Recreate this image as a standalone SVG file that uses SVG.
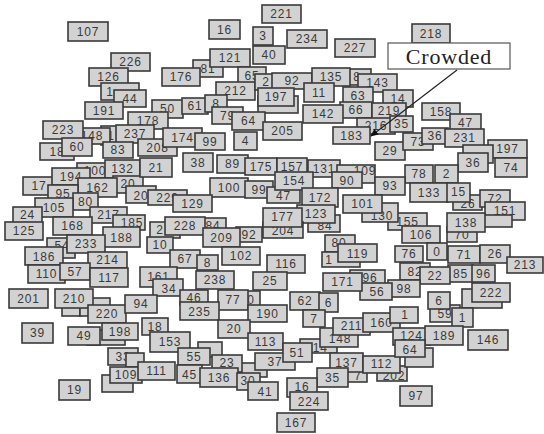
<svg xmlns="http://www.w3.org/2000/svg" width="544" height="434" viewBox="0 0 544 434">
<style>
.n rect{fill:#d2d2d2;stroke:#3a3a3a;stroke-width:1.6}
.n text{font-family:"Liberation Sans",Arial,sans-serif;font-size:12px;fill:#3a3a3a;text-anchor:middle;letter-spacing:0.8px}
</style>
<defs>
<marker id="ah" markerWidth="8" markerHeight="8" refX="7" refY="4" orient="auto" markerUnits="userSpaceOnUse"><path d="M0,0.5 L8,4 L0,7.5 Z" fill="#111"/></marker>
</defs>
<rect width="544" height="434" fill="#fff"/>
<g id="n107" class="n"><rect x="68" y="22" width="40" height="19"/><text x="88" y="35.5">107</text></g>
<g id="n16" class="n"><rect x="209" y="20" width="31" height="19"/><text x="224.5" y="33.5">16</text></g>
<g id="n221" class="n"><rect x="262" y="5" width="39" height="18"/><text x="281.5" y="18">221</text></g>
<g id="n3" class="n"><rect x="253" y="27" width="20" height="18"/><text x="263" y="40">3</text></g>
<g id="n40" class="n"><rect x="253" y="46" width="32" height="18"/><text x="269" y="59">40</text></g>
<g id="n234" class="n"><rect x="287" y="30" width="40" height="18"/><text x="307" y="43">234</text></g>
<g id="n227" class="n"><rect x="335" y="39" width="40" height="18"/><text x="355" y="52">227</text></g>
<g id="n218" class="n"><rect x="412" y="24" width="38" height="19"/><text x="431" y="37.5">218</text></g>
<g id="n226" class="n"><rect x="111" y="53" width="39" height="18"/><text x="130.5" y="66">226</text></g>
<g id="n126" class="n"><rect x="89" y="68" width="39" height="18"/><text x="108.5" y="81">126</text></g>
<g id="n1a" class="n"><rect x="101" y="83" width="38" height="17"/><text x="110" y="95.5">1</text></g>
<g id="n44" class="n"><rect x="114" y="90" width="32" height="17"/><text x="130" y="102.5">44</text></g>
<g id="n191" class="n"><rect x="85" y="102" width="38" height="17"/><text x="104" y="114.5">191</text></g>
<g id="n81" class="n"><rect x="193" y="60" width="30" height="17"/><text x="208" y="72.5">81</text></g>
<g id="n176" class="n"><rect x="162" y="68" width="38" height="18"/><text x="181" y="81">176</text></g>
<g id="n121" class="n"><rect x="210" y="49" width="40" height="18"/><text x="230" y="62">121</text></g>
<g id="n65" class="n"><rect x="238" y="67" width="28" height="17"/><text x="252" y="79.5">65</text></g>
<g id="n212" class="n"><rect x="216" y="82" width="39" height="18"/><text x="235.5" y="95">212</text></g>
<g id="n2" class="n"><rect x="255" y="74" width="22" height="16"/><text x="266" y="86">2</text></g>
<g id="n92" class="n"><rect x="272" y="73" width="40" height="16"/><text x="292" y="85">92</text></g>
<g id="b0" class="n"><rect x="258" y="96" width="40" height="17"/></g>
<g id="n197" class="n"><rect x="258" y="88" width="36" height="18"/><text x="276" y="101">197</text></g>
<g id="n50" class="n"><rect x="152" y="100" width="31" height="18"/><text x="167.5" y="113">50</text></g>
<g id="n61" class="n"><rect x="182" y="98" width="26" height="16"/><text x="195" y="110">61</text></g>
<g id="n8" class="n"><rect x="205" y="95" width="22" height="17"/><text x="216" y="107.5">8</text></g>
<g id="n79" class="n"><rect x="212" y="107" width="31" height="17"/><text x="227.5" y="119.5">79</text></g>
<g id="n64" class="n"><rect x="232" y="112" width="33" height="18"/><text x="248.5" y="125">64</text></g>
<g id="n178" class="n"><rect x="128" y="112" width="40" height="17"/><text x="148" y="124.5">178</text></g>
<g id="n1" class="n"><rect x="101" y="126" width="20" height="19"/><text x="111" y="139.5">1</text></g>
<g id="n148" class="n"><rect x="74" y="128" width="36" height="16"/><text x="92" y="140">148</text></g>
<g id="n237" class="n"><rect x="116" y="125" width="38" height="18"/><text x="135" y="138">237</text></g>
<g id="n223" class="n"><rect x="43" y="121" width="40" height="18"/><text x="63" y="134">223</text></g>
<g id="n18" class="n"><rect x="40" y="143" width="34" height="17"/><text x="57" y="155.5">18</text></g>
<g id="n60" class="n"><rect x="62" y="138" width="30" height="18"/><text x="77" y="151">60</text></g>
<g id="n83" class="n"><rect x="103" y="142" width="30" height="16"/><text x="118" y="154">83</text></g>
<g id="n208" class="n"><rect x="138" y="139" width="39" height="17"/><text x="157.5" y="151.5">208</text></g>
<g id="n174" class="n"><rect x="163" y="128" width="39" height="19"/><text x="182.5" y="141.5">174</text></g>
<g id="n99" class="n"><rect x="195" y="133" width="30" height="17"/><text x="210" y="145.5">99</text></g>
<g id="n4" class="n"><rect x="234" y="132" width="23" height="18"/><text x="245.5" y="145">4</text></g>
<g id="n205" class="n"><rect x="263" y="122" width="39" height="18"/><text x="282.5" y="135">205</text></g>
<g id="n8b" class="n"><rect x="343" y="69" width="28" height="16"/><text x="357" y="81">8</text></g>
<g id="n135" class="n"><rect x="312" y="68" width="38" height="18"/><text x="331" y="81">135</text></g>
<g id="n143" class="n"><rect x="358" y="74" width="39" height="18"/><text x="377.5" y="87">143</text></g>
<g id="n11" class="n"><rect x="304" y="83" width="30" height="19"/><text x="319" y="96.5">11</text></g>
<g id="n63" class="n"><rect x="343" y="87" width="30" height="18"/><text x="358" y="100">63</text></g>
<g id="n14" class="n"><rect x="383" y="90" width="30" height="17"/><text x="398" y="102.5">14</text></g>
<g id="n66" class="n"><rect x="340" y="102" width="32" height="16"/><text x="356" y="114">66</text></g>
<g id="n219" class="n"><rect x="372" y="103" width="34" height="16"/><text x="389" y="115">219</text></g>
<g id="n142" class="n"><rect x="303" y="105" width="40" height="18"/><text x="323" y="118">142</text></g>
<g id="n216" class="n"><rect x="357" y="118" width="38" height="16"/><text x="376" y="130">216</text></g>
<g id="n35" class="n"><rect x="390" y="116" width="23" height="16"/><text x="401.5" y="128">35</text></g>
<g id="n183" class="n"><rect x="333" y="127" width="37" height="17"/><text x="351.5" y="139.5">183</text></g>
<g id="n29" class="n"><rect x="375" y="142" width="30" height="18"/><text x="390" y="155">29</text></g>
<g id="n158" class="n"><rect x="422" y="103" width="38" height="17"/><text x="441" y="115.5">158</text></g>
<g id="n47" class="n"><rect x="450" y="114" width="31" height="18"/><text x="465.5" y="127">47</text></g>
<g id="n73" class="n"><rect x="403" y="133" width="30" height="17"/><text x="418" y="145.5">73</text></g>
<g id="n36" class="n"><rect x="422" y="128" width="26" height="16"/><text x="435" y="140">36</text></g>
<g id="n231" class="n"><rect x="445" y="129" width="39" height="18"/><text x="464.5" y="142">231</text></g>
<g id="n197b" class="n"><rect x="488" y="140" width="39" height="18"/><text x="507.5" y="153">197</text></g>
<g id="n74" class="n"><rect x="495" y="158" width="32" height="19"/><text x="511" y="171.5">74</text></g>
<g id="b33" class="n"><rect x="463" y="145" width="30" height="18"/></g>
<g id="n36b" class="n"><rect x="458" y="153" width="30" height="19"/><text x="473" y="166.5">36</text></g>
<g id="n78" class="n"><rect x="405" y="165" width="28" height="18"/><text x="419" y="178">78</text></g>
<g id="n2b" class="n"><rect x="435" y="165" width="23" height="18"/><text x="446.5" y="178">2</text></g>
<g id="n133" class="n"><rect x="410" y="183" width="38" height="19"/><text x="429" y="196.5">133</text></g>
<g id="n26" class="n"><rect x="453" y="195" width="29" height="15"/><text x="468" y="208">26</text></g>
<g id="n15" class="n"><rect x="447" y="183" width="23" height="19"/><text x="458.5" y="196">15</text></g>
<g id="n72" class="n"><rect x="480" y="190" width="30" height="17"/><text x="495" y="202.5">72</text></g>
<g id="n151" class="n"><rect x="485" y="202" width="40" height="18"/><text x="505" y="215">151</text></g>
<g id="n70" class="n"><rect x="447" y="227" width="30" height="15"/><text x="462" y="239">70</text></g>
<g id="b1" class="n"><rect x="483" y="215" width="29" height="12"/></g>
<g id="n138" class="n"><rect x="447" y="213" width="38" height="19"/><text x="466" y="226.5">138</text></g>
<g id="n155" class="n"><rect x="388" y="213" width="39" height="17"/><text x="407.5" y="225.5">155</text></g>
<g id="n106" class="n"><rect x="402" y="226" width="38" height="17"/><text x="421" y="239">106</text></g>
<g id="n76" class="n"><rect x="395" y="246" width="28" height="16"/><text x="409" y="258">76</text></g>
<g id="n0" class="n"><rect x="427" y="243" width="20" height="17"/><text x="437" y="255.5">0</text></g>
<g id="n71" class="n"><rect x="448" y="246" width="32" height="17"/><text x="464" y="258.5">71</text></g>
<g id="n26b" class="n"><rect x="480" y="245" width="30" height="18"/><text x="495" y="258">26</text></g>
<g id="n213" class="n"><rect x="507" y="257" width="36" height="16"/><text x="525" y="269">213</text></g>
<g id="n82" class="n"><rect x="400" y="263" width="30" height="17"/><text x="415" y="275.5">82</text></g>
<g id="n85" class="n"><rect x="448" y="265" width="25" height="17"/><text x="460.5" y="277.5">85</text></g>
<g id="n96b" class="n"><rect x="472" y="265" width="23" height="17"/><text x="483.5" y="277.5">96</text></g>
<g id="n22" class="n"><rect x="420" y="267" width="30" height="17"/><text x="435" y="279.5">22</text></g>
<g id="n98" class="n"><rect x="388" y="280" width="32" height="17"/><text x="404" y="293">98</text></g>
<g id="n100b" class="n"><rect x="77" y="163" width="30" height="15"/><text x="95" y="174.5">100</text></g>
<g id="n132" class="n"><rect x="105" y="160" width="35" height="18"/><text x="122.5" y="173">132</text></g>
<g id="n17" class="n"><rect x="23" y="177" width="32" height="18"/><text x="39" y="190">17</text></g>
<g id="n194" class="n"><rect x="52" y="168" width="38" height="17"/><text x="71" y="181">194</text></g>
<g id="n20a" class="n"><rect x="113" y="176" width="30" height="17"/><text x="128" y="187.5">20</text></g>
<g id="n162" class="n"><rect x="78" y="178" width="39" height="19"/><text x="97.5" y="191.5">162</text></g>
<g id="n20b" class="n"><rect x="126" y="186" width="30" height="17"/><text x="141" y="199.5">20</text></g>
<g id="n21" class="n"><rect x="140" y="158" width="32" height="19"/><text x="156" y="171.5">21</text></g>
<g id="n95" class="n"><rect x="48" y="185" width="30" height="17"/><text x="63" y="197.5">95</text></g>
<g id="n80" class="n"><rect x="73" y="193" width="25" height="17"/><text x="85.5" y="205.5">80</text></g>
<g id="n105" class="n"><rect x="35" y="198" width="38" height="19"/><text x="54" y="211.5">105</text></g>
<g id="n24" class="n"><rect x="13" y="207" width="29" height="16"/><text x="27.5" y="219">24</text></g>
<g id="n125" class="n"><rect x="5" y="222" width="38" height="18"/><text x="24" y="235">125</text></g>
<g id="n217" class="n"><rect x="90" y="207" width="37" height="16"/><text x="108.5" y="219">217</text></g>
<g id="n185" class="n"><rect x="113" y="215" width="32" height="15"/><text x="132" y="227">185</text></g>
<g id="n168" class="n"><rect x="53" y="217" width="39" height="18"/><text x="72.5" y="230">168</text></g>
<g id="n188" class="n"><rect x="103" y="227" width="37" height="20"/><text x="121.5" y="241.5">188</text></g>
<g id="n54" class="n"><rect x="47" y="238" width="28" height="20"/><text x="62" y="250">54</text></g>
<g id="n233" class="n"><rect x="67" y="235" width="38" height="18"/><text x="86" y="248">233</text></g>
<g id="n186" class="n"><rect x="25" y="247" width="38" height="18"/><text x="44" y="260.5">186</text></g>
<g id="n214" class="n"><rect x="88" y="252" width="39" height="16"/><text x="107.5" y="264">214</text></g>
<g id="n110" class="n"><rect x="28" y="265" width="37" height="18"/><text x="46.5" y="278">110</text></g>
<g id="n57" class="n"><rect x="60" y="263" width="30" height="17"/><text x="75" y="275.5">57</text></g>
<g id="n117" class="n"><rect x="90" y="268" width="38" height="19"/><text x="109" y="281.5">117</text></g>
<g id="n38" class="n"><rect x="183" y="153" width="30" height="19"/><text x="198" y="166.5">38</text></g>
<g id="n89" class="n"><rect x="217" y="155" width="31" height="18"/><text x="232.5" y="168">89</text></g>
<g id="n175" class="n"><rect x="245" y="158" width="32" height="17"/><text x="261" y="170.5">175</text></g>
<g id="n157" class="n"><rect x="277" y="158" width="30" height="19"/><text x="292" y="171">157</text></g>
<g id="n131" class="n"><rect x="308" y="160" width="32" height="17"/><text x="324" y="172.5">131</text></g>
<g id="n109" class="n"><rect x="337" y="165" width="38" height="18"/><text x="365" y="175">109</text></g>
<g id="n100" class="n"><rect x="210" y="178" width="38" height="19"/><text x="229" y="191.5">100</text></g>
<g id="n99b" class="n"><rect x="245" y="181" width="28" height="17"/><text x="259" y="193.5">99</text></g>
<g id="n229" class="n"><rect x="148" y="190" width="39" height="15"/><text x="167.5" y="201.5">229</text></g>
<g id="n129" class="n"><rect x="173" y="195" width="39" height="17"/><text x="192.5" y="207.5">129</text></g>
<g id="n47b" class="n"><rect x="267" y="187" width="33" height="16"/><text x="283.5" y="199.5">47</text></g>
<g id="n154" class="n"><rect x="275" y="172" width="38" height="18"/><text x="294" y="185">154</text></g>
<g id="n90" class="n"><rect x="332" y="172" width="30" height="16"/><text x="347" y="184.5">90</text></g>
<g id="n172" class="n"><rect x="302" y="188" width="36" height="19"/><text x="320" y="201.5">172</text></g>
<g id="n93" class="n"><rect x="375" y="177" width="30" height="18"/><text x="390" y="190">93</text></g>
<g id="n130" class="n"><rect x="362" y="203" width="36" height="19"/><text x="382" y="219.5">130</text></g>
<g id="n101" class="n"><rect x="343" y="195" width="39" height="18"/><text x="362.5" y="207.5">101</text></g>
<g id="n84" class="n"><rect x="308" y="215" width="32" height="17"/><text x="325" y="229.5">84</text></g>
<g id="n123" class="n"><rect x="297" y="205" width="38" height="18"/><text x="316" y="217.5">123</text></g>
<g id="n2c" class="n"><rect x="150" y="222" width="30" height="16"/><text x="160" y="234">2</text></g>
<g id="n84b" class="n"><rect x="200" y="218" width="26" height="15"/><text x="213" y="229.5">84</text></g>
<g id="n228" class="n"><rect x="165" y="217" width="40" height="18"/><text x="185" y="230">228</text></g>
<g id="n10" class="n"><rect x="147" y="237" width="26" height="16"/><text x="160" y="249">10</text></g>
<g id="n204" class="n"><rect x="263" y="222" width="40" height="16"/><text x="283" y="234.5">204</text></g>
<g id="n177" class="n"><rect x="263" y="208" width="39" height="19"/><text x="282.5" y="221">177</text></g>
<g id="n92b" class="n"><rect x="236" y="227" width="26" height="15"/><text x="249" y="238.5">92</text></g>
<g id="n209" class="n"><rect x="203" y="228" width="37" height="19"/><text x="221.5" y="241.5">209</text></g>
<g id="n67" class="n"><rect x="170" y="250" width="30" height="18"/><text x="185" y="263">67</text></g>
<g id="n8c" class="n"><rect x="197" y="255" width="21" height="15"/><text x="207.5" y="266.5">8</text></g>
<g id="n102" class="n"><rect x="222" y="247" width="38" height="18"/><text x="241" y="260">102</text></g>
<g id="n116" class="n"><rect x="267" y="255" width="38" height="18"/><text x="286" y="268">116</text></g>
<g id="n80b" class="n"><rect x="325" y="235" width="30" height="17"/><text x="339" y="246.5">80</text></g>
<g id="n1c" class="n"><rect x="322" y="252" width="38" height="15"/><text x="329" y="264">1</text></g>
<g id="n119" class="n"><rect x="338" y="244" width="39" height="18"/><text x="357.5" y="257.5">119</text></g>
<g id="n161" class="n"><rect x="140" y="267" width="37" height="20"/><text x="158.5" y="280.5">161</text></g>
<g id="n238" class="n"><rect x="196" y="271" width="38" height="18"/><text x="215" y="284">238</text></g>
<g id="n34" class="n"><rect x="153" y="279" width="30" height="17"/><text x="169" y="293">34</text></g>
<g id="n25" class="n"><rect x="253" y="272" width="34" height="18"/><text x="270" y="285">25</text></g>
<g id="n96" class="n"><rect x="350" y="270" width="35" height="17"/><text x="370" y="282">96</text></g>
<g id="n56" class="n"><rect x="360" y="283" width="32" height="17"/><text x="377" y="296">56</text></g>
<g id="n171" class="n"><rect x="323" y="273" width="39" height="18"/><text x="342.5" y="286">171</text></g>
<g id="n201" class="n"><rect x="9" y="289" width="39" height="19"/><text x="28.5" y="302.5">201</text></g>
<g id="b2" class="n"><rect x="62" y="306" width="18" height="10"/></g>
<g id="b3" class="n"><rect x="80" y="298" width="30" height="18"/></g>
<g id="n210" class="n"><rect x="55" y="289" width="38" height="19"/><text x="74" y="302.5">210</text></g>
<g id="n220" class="n"><rect x="88" y="305" width="38" height="18"/><text x="107" y="318">220</text></g>
<g id="n94" class="n"><rect x="125" y="295" width="32" height="18"/><text x="141" y="308">94</text></g>
<g id="n39" class="n"><rect x="22" y="323" width="31" height="20"/><text x="37.5" y="337">39</text></g>
<g id="b4" class="n"><rect x="87" y="330" width="38" height="15"/></g>
<g id="n49" class="n"><rect x="68" y="327" width="32" height="18"/><text x="84" y="340">49</text></g>
<g id="n198" class="n"><rect x="102" y="323" width="36" height="17"/><text x="120" y="335.5">198</text></g>
<g id="n46" class="n"><rect x="180" y="290" width="28" height="15"/><text x="194" y="301.5">46</text></g>
<g id="n0b" class="n"><rect x="238" y="291" width="22" height="17"/><text x="251" y="303.5">0</text></g>
<g id="n77" class="n"><rect x="218" y="290" width="30" height="20"/><text x="233" y="304">77</text></g>
<g id="n235" class="n"><rect x="180" y="302" width="39" height="18"/><text x="199.5" y="315.5">235</text></g>
<g id="n190" class="n"><rect x="248" y="305" width="39" height="17"/><text x="267.5" y="318">190</text></g>
<g id="n62" class="n"><rect x="290" y="292" width="30" height="18"/><text x="305" y="305">62</text></g>
<g id="n6" class="n"><rect x="319" y="293" width="19" height="19"/><text x="328.5" y="306.5">6</text></g>
<g id="n7" class="n"><rect x="303" y="310" width="22" height="17"/><text x="314" y="323">7</text></g>
<g id="n18b" class="n"><rect x="142" y="318" width="26" height="17"/><text x="155" y="330.5">18</text></g>
<g id="n153" class="n"><rect x="150" y="332" width="40" height="20"/><text x="170" y="346">153</text></g>
<g id="n20c" class="n"><rect x="218" y="320" width="32" height="18"/><text x="234" y="333">20</text></g>
<g id="n113" class="n"><rect x="248" y="333" width="35" height="17"/><text x="265.5" y="345.5">113</text></g>
<g id="n33b" class="n"><rect x="108" y="348" width="30" height="17"/><text x="123" y="360.5">33</text></g>
<g id="b5" class="n"><rect x="126" y="353" width="18" height="14"/></g>
<g id="b6" class="n"><rect x="102" y="375" width="31" height="17"/></g>
<g id="n109b" class="n"><rect x="110" y="367" width="32" height="16"/><text x="126" y="379">109</text></g>
<g id="n19" class="n"><rect x="59" y="380" width="31" height="20"/><text x="74.5" y="394">19</text></g>
<g id="b7" class="n"><rect x="198" y="342" width="24" height="15"/></g>
<g id="n55" class="n"><rect x="178" y="348" width="32" height="17"/><text x="194" y="360.5">55</text></g>
<g id="n111" class="n"><rect x="138" y="362" width="37" height="18"/><text x="156.5" y="375">111</text></g>
<g id="n45" class="n"><rect x="177" y="365" width="25" height="18"/><text x="189.5" y="378.5">45</text></g>
<g id="b8" class="n"><rect x="240" y="363" width="27" height="14"/></g>
<g id="n23" class="n"><rect x="212" y="355" width="30" height="17"/><text x="227" y="367">23</text></g>
<g id="n136" class="n"><rect x="200" y="368" width="38" height="19"/><text x="219" y="382">136</text></g>
<g id="n30" class="n"><rect x="237" y="373" width="23" height="17"/><text x="248" y="385">30</text></g>
<g id="n41" class="n"><rect x="248" y="382" width="30" height="18"/><text x="265" y="396">41</text></g>
<g id="n37" class="n"><rect x="255" y="353" width="40" height="17"/><text x="275" y="365.5">37</text></g>
<g id="n114" class="n"><rect x="300" y="339" width="37" height="14"/><text x="317" y="352">114</text></g>
<g id="n51" class="n"><rect x="283" y="343" width="29" height="19"/><text x="297" y="357">51</text></g>
<g id="n148b" class="n"><rect x="320" y="328" width="38" height="19"/><text x="340" y="343">148</text></g>
<g id="n211" class="n"><rect x="333" y="318" width="37" height="17"/><text x="351.5" y="330">211</text></g>
<g id="n160" class="n"><rect x="363" y="313" width="37" height="19"/><text x="381.5" y="326.5">160</text></g>
<g id="n7b" class="n"><rect x="347" y="367" width="20" height="15"/><text x="358" y="379.5">7</text></g>
<g id="n137" class="n"><rect x="330" y="353" width="33" height="19"/><text x="346.5" y="366.5">137</text></g>
<g id="n202" class="n"><rect x="377" y="366" width="30" height="15"/><text x="394" y="379.5">202</text></g>
<g id="n112" class="n"><rect x="363" y="356" width="37" height="17"/><text x="381.5" y="368">112</text></g>
<g id="n35b" class="n"><rect x="317" y="368" width="31" height="19"/><text x="332.5" y="382">35</text></g>
<g id="n16b" class="n"><rect x="287" y="378" width="30" height="19"/><text x="302" y="391">16</text></g>
<g id="n224" class="n"><rect x="290" y="392" width="38" height="18"/><text x="309" y="405.5">224</text></g>
<g id="n167" class="n"><rect x="277" y="413" width="38" height="19"/><text x="296" y="426.5">167</text></g>
<g id="b222" class="n"><rect x="462" y="289" width="40" height="19"/></g>
<g id="n222" class="n"><rect x="472" y="283" width="38" height="19"/><text x="491" y="296.5">222</text></g>
<g id="n59" class="n"><rect x="430" y="305" width="30" height="17"/><text x="445" y="318">59</text></g>
<g id="n6b" class="n"><rect x="428" y="292" width="22" height="17"/><text x="439" y="304.5">6</text></g>
<g id="n1b" class="n"><rect x="452" y="308" width="21" height="19"/><text x="462.5" y="321.5">1</text></g>
<g id="n1d" class="n"><rect x="390" y="307" width="28" height="16"/><text x="405" y="319">1</text></g>
<g id="n124" class="n"><rect x="393" y="328" width="37" height="17"/><text x="411.5" y="340">124</text></g>
<g id="n189" class="n"><rect x="425" y="326" width="38" height="19"/><text x="444" y="339.5">189</text></g>
<g id="n146" class="n"><rect x="468" y="330" width="40" height="20"/><text x="488" y="344">146</text></g>
<g id="b9" class="n"><rect x="405" y="348" width="28" height="19"/></g>
<g id="n64b" class="n"><rect x="395" y="340" width="30" height="17"/><text x="410" y="353.5">64</text></g>
<g id="n97" class="n"><rect x="400" y="386" width="32" height="20"/><text x="416" y="400">97</text></g>
<g id="crowded"><rect x="388" y="43" width="122" height="26" fill="#fff" stroke="#555" stroke-width="1.2"/><text x="449" y="63.5" font-family="'Liberation Serif','Times New Roman',serif" font-size="22" fill="#222" text-anchor="middle" letter-spacing="0.8">Crowded</text></g>
<g id="connectors"><line x1="457" y1="70" x2="371" y2="136" stroke="#222" stroke-width="1.2" marker-end="url(#ah)"/></g>
</svg>
